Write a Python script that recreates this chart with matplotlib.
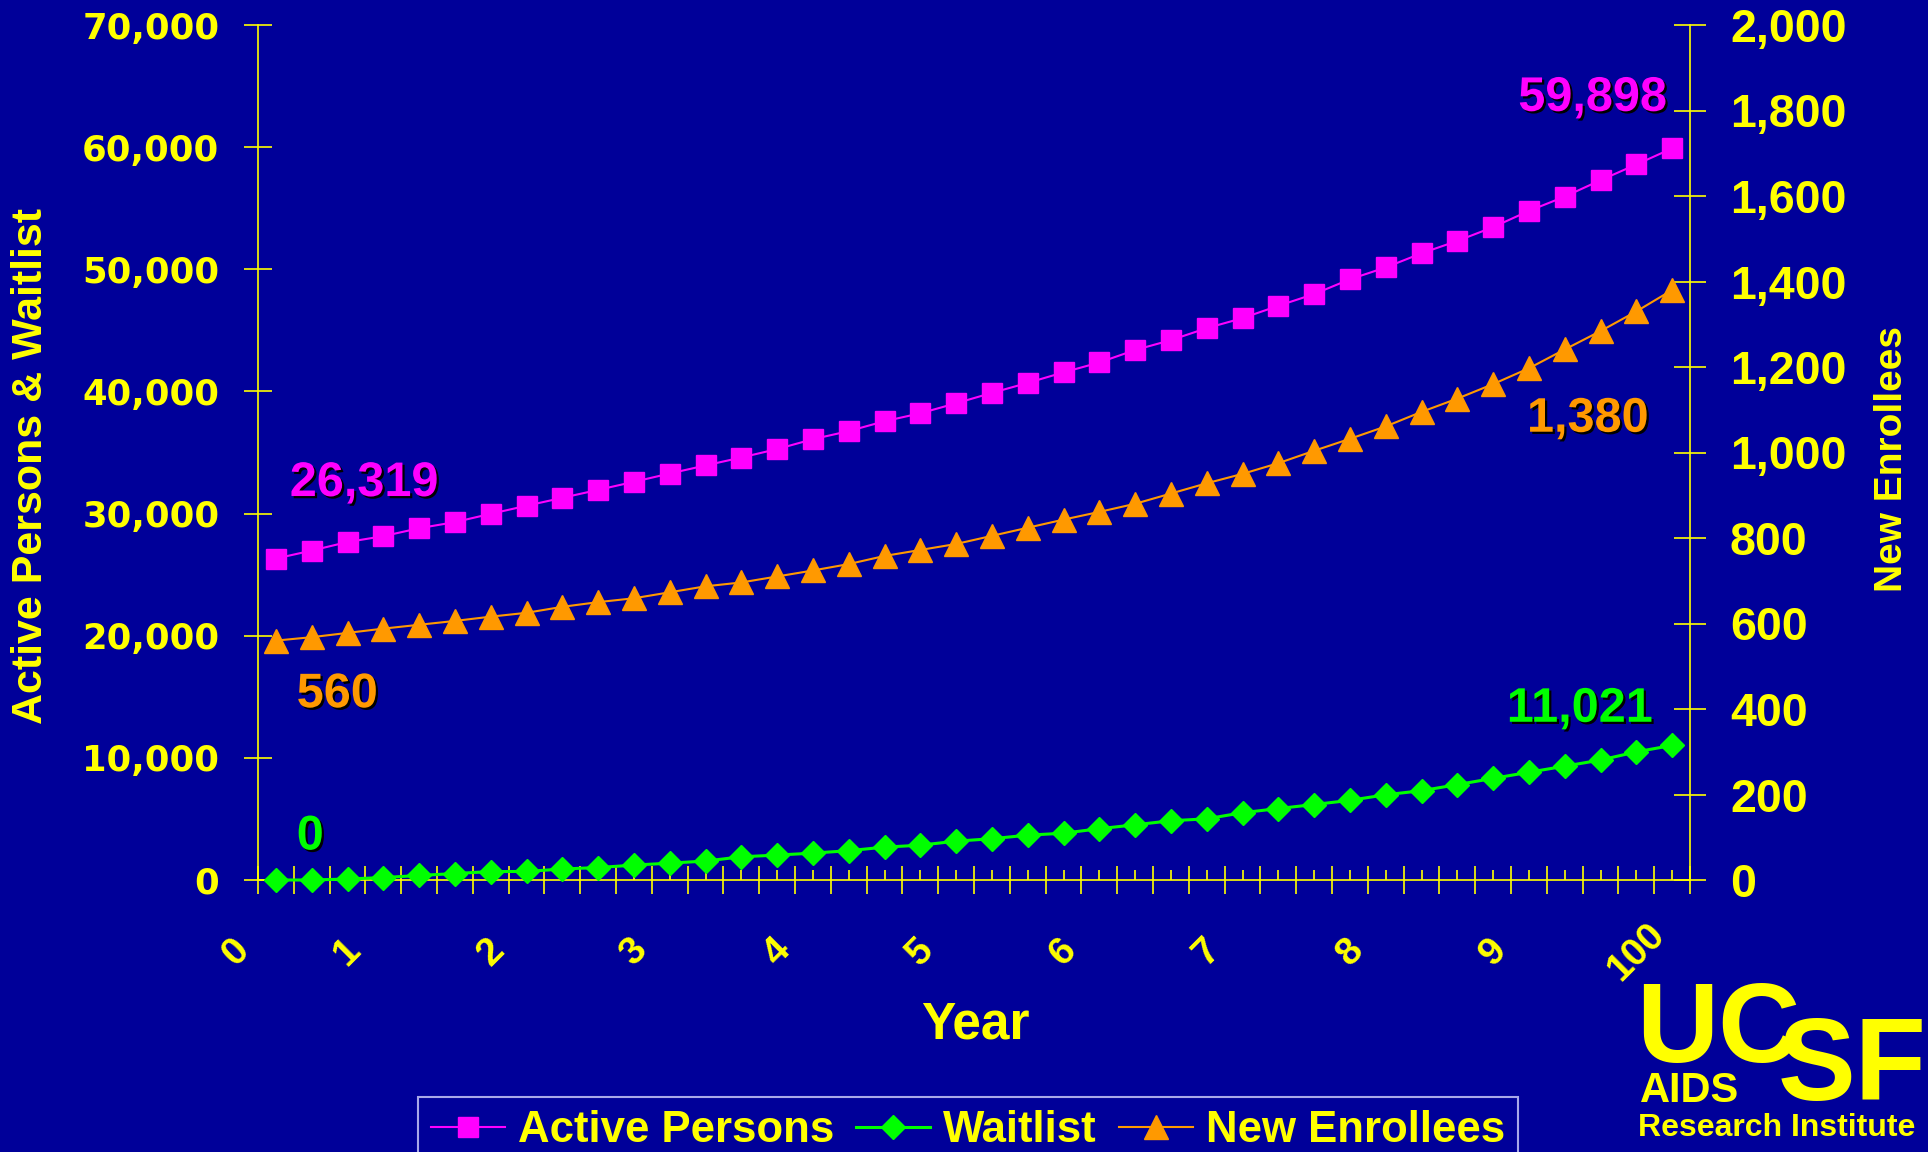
import numpy as np
import matplotlib
matplotlib.use("Agg")
import matplotlib.pyplot as plt
import matplotlib.patheffects as pe
from matplotlib.transforms import blended_transform_factory

plt.rcParams['font.family'] = ['Liberation Sans', 'DejaVu Sans']
plt.rcParams['font.weight'] = 'bold'

# quarterly projections over ten years
active = [26319, 26970, 27670, 28150, 28800, 29300, 29980, 30640, 31290, 31940,
          32600, 33280, 33940, 34590, 35280, 36090, 36750, 37560, 38210, 39030,
          39880, 40700, 41560, 42370, 43390, 44200, 45180, 46000, 47010, 47970,
          49180, 50150, 51310, 52320, 53450, 54780, 55950, 57290, 58580, 59898]
waitlist = [0, 0, 80, 200, 370, 530, 690, 700, 900, 1020,
            1220, 1380, 1550, 1900, 2040, 2200, 2400, 2690, 2850, 3180,
            3380, 3670, 3830, 4200, 4520, 4850, 5010, 5510, 5850, 6180,
            6520, 6980, 7310, 7810, 8320, 8820, 9320, 9820, 10490, 11021]
enrollees = [560, 568, 578, 588, 597, 606, 616, 625, 639, 650,
             659, 673, 687, 696, 710, 724, 739, 758, 772, 786,
             805, 824, 843, 861, 880, 904, 928, 950, 975, 1004,
             1032, 1061, 1095, 1126, 1160, 1197, 1241, 1284, 1330, 1380]
year_labels = ['0', '1', '2', '3', '4', '5', '6', '7', '8', '9', '100']
left_ticks = list(range(0, 70001, 10000))
right_ticks = list(range(0, 2001, 200))

BG = '#000099'
YEL = '#FFFF00'
MAG = '#FF00FF'
GRN = '#00FF00'
ORG = '#FF9900'

W, H = 1928, 1152
fig = plt.figure(figsize=(W / 100, H / 100), dpi=100, facecolor=BG)
ax = fig.add_axes([258 / W, 1 - 880 / H, 1432 / W, 855 / H])
ax.set_facecolor(BG)
ax2 = ax.twinx()

x = np.arange(len(active))
l1, = ax.plot(x, active, color=MAG, lw=1.5, marker='s', ms=15, mec=MAG,
              label='Active Persons', clip_on=False, zorder=3)
l2, = ax.plot(x, waitlist, color=GRN, lw=2.2, marker='D', ms=12.5, mec=GRN,
              label='Waitlist', clip_on=False, zorder=3)
l3, = ax2.plot(x, enrollees, color=ORG, lw=1.5, marker='^', ms=17, mec=ORG,
               label='New Enrollees', clip_on=False, zorder=3)

ax.set_xlim(-0.5, len(active) - 0.5)
ax.set_ylim(0, 70000)
ax2.set_ylim(0, 2000)

# axes lines
for s in ['top', 'right']:
    ax.spines[s].set_visible(False)
for s in ['top', 'left', 'bottom']:
    ax2.spines[s].set_visible(False)
for sp in [ax.spines['left'], ax.spines['bottom'], ax2.spines['right']]:
    sp.set_color(YEL)
    sp.set_linewidth(1.2)

ax.set_yticks(left_ticks, labels=[f'{v:,}' for v in left_ticks],
              fontfamily='DejaVu Sans', fontweight='bold', fontsize=25.5, color=YEL)
ax.tick_params(axis='y', direction='inout', length=19.5, width=1.2, color=YEL, pad=18)
ax2.set_yticks(right_ticks, labels=[f'{v:,}' for v in right_ticks],
               fontweight='bold', fontsize=33.5, color=YEL)
ax2.tick_params(axis='y', direction='inout', length=23.5, width=1.2, color=YEL, pad=17)

# category boundaries get crossing ticks, data points get short inner ticks
ax.set_xticks(np.arange(-0.5, len(active)), labels=[])
ax.set_xticks(x, minor=True)
ax.tick_params(axis='x', which='major', direction='inout', length=20, width=1.2, color=YEL)
ax.tick_params(axis='x', which='minor', direction='in', length=7, width=1.2, color=YEL)

# year labels, one every four quarters
trans = blended_transform_factory(ax.transData, fig.transFigure)
year_pos = [-1.1] + [4 * k - 2 for k in range(1, len(year_labels))]
for xp, lab in zip(year_pos, year_labels):
    ax.text(xp, 1 - 952 / H, lab, transform=trans, rotation=45, ha='center', va='center',
            fontsize=28, fontweight='bold', color=YEL, clip_on=False)

shadow = [pe.withSimplePatchShadow(offset=(1.6, -1.6), shadow_rgbFace='black', alpha=1.0)]
lab_kw = dict(textcoords='offset points', fontsize=35, fontweight='bold',
              va='baseline', path_effects=shadow, annotation_clip=False)
ax.annotate(f'{active[-1]:,}', (x[-1], active[-1]), xytext=(-4, 27), ha='right', color=MAG, **lab_kw)
ax.annotate(f'{active[0]:,}', (x[0], active[0]), xytext=(10, 45), ha='left', color=MAG, **lab_kw)
ax2.annotate(f'{enrollees[0]:,}', (x[0], enrollees[0]), xytext=(15, -48), ha='left', color=ORG, **lab_kw)
ax2.annotate(f'{enrollees[-1]:,}', (x[-1], enrollees[-1]), xytext=(-17, -102), ha='right', color=ORG, **lab_kw)
ax.annotate(f'{waitlist[0]:,}', (x[0], waitlist[0]), xytext=(15, 22), ha='left', color=GRN, **lab_kw)
ax.annotate(f'{waitlist[-1]:,}', (x[-1], waitlist[-1]), xytext=(-14, 17), ha='right', color=GRN, **lab_kw)

# axis titles
fig.text(31 / W, 1 - 466 / H, 'Active Persons & Waitlist', rotation=90, ha='center', va='center',
         fontsize=31, fontweight='bold', color=YEL)
fig.text(1892 / W, 1 - 459 / H, 'New Enrollees', rotation=90, ha='center', va='center',
         fontsize=28, fontweight='bold', color=YEL)
fig.text(975 / W, 1 - 1025 / H, 'Year', ha='center', va='center',
         fontsize=37, fontweight='bold', color=YEL)

leg = fig.legend(handles=[l1, l2, l3], loc='upper left', bbox_to_anchor=(418 / W, 1 - 1097 / H),
                 ncol=3, fontsize=31.5, labelcolor=YEL, facecolor=BG, edgecolor='#A8A8E8',
                 framealpha=1, fancybox=False, handlelength=1.69, handletextpad=0.3,
                 columnspacing=0.5, borderpad=0.3, borderaxespad=0)
leg.get_frame().set_linewidth(1.5)

# logo block
fig.text(1636 / W, 1 - 1062 / H, 'UC', fontsize=82, fontweight='bold', color=YEL, va='baseline')
fig.text(1778 / W, 1 - 1100 / H, 'SF', fontsize=84, fontweight='bold', color=YEL, va='baseline')
fig.text(1640 / W, 1 - 1102 / H, 'AIDS', fontsize=30, fontweight='bold', color=YEL, va='baseline')
fig.text(1638 / W, 1 - 1136 / H, 'Research Institute', fontsize=23, fontweight='bold',
         color=YEL, va='baseline')

fig.savefig('out.png', dpi=100, facecolor=BG)
